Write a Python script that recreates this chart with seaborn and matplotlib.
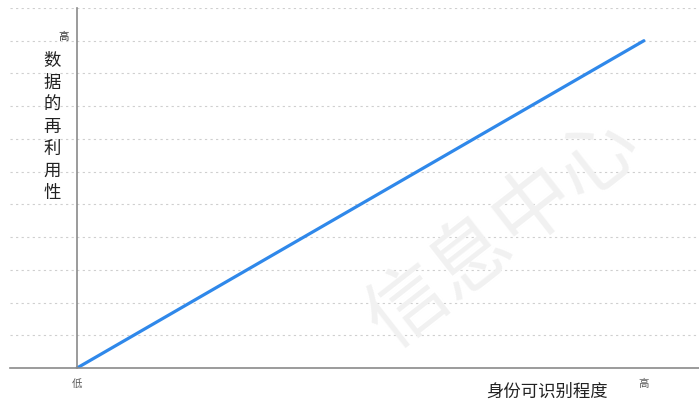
import matplotlib
matplotlib.use("Agg")
import matplotlib.pyplot as plt
import pandas as pd
import seaborn as sns

# data
x_values = [0, 4]
y_values = [0, 10]
x_ticks = [0, 1, 2, 3, 4]
x_tick_labels = ["低", "", "", "", "高"]
y_ticks = [10]
y_tick_labels = ["高"]
x_label = "身份可识别程度"
y_label = "数据的再利用性"
watermark = "信息中心"

sns.set_style("white")
plt.rcParams["font.family"] = ["Noto Sans CJK SC", "DejaVu Sans"]

df = pd.DataFrame({"x": x_values, "y": y_values})

fig = plt.figure(figsize=(6.99, 4.01), dpi=100)
ax = fig.add_axes([10 / 699, 1 - 368 / 401, 689 / 699, 360 / 401])

# faint watermark
fig.text(0.72, 0.42, watermark, fontsize=58, color="#f1f1f1", rotation=38,
         ha="center", va="center", zorder=0)
ax.set_facecolor("none")

sns.lineplot(data=df, x="x", y="y", color="#2f88ea", linewidth=2.3, ax=ax)

ax.set_xlim(-0.473, 4.389)
ax.set_ylim(0, 11)

ax.set_yticks(range(0, 12), minor=True)
ax.grid(True, which="minor", axis="y", linestyle=(0, (2, 3)), color="#cfcfcf", linewidth=0.8)
ax.set_axisbelow(True)

ax.set_xticks(x_ticks)
ax.set_xticklabels(x_tick_labels, fontsize=7.5, color="#555555")
ax.tick_params(axis="x", length=4, width=1, color="#999999", pad=4, direction="out")
ax.set_yticks([])
ax.tick_params(axis="y", which="minor", length=0)
# y tick label sits just above its grid line
for yv, lab in zip(y_ticks, y_tick_labels):
    ax.annotate(lab, xy=(0, yv), xytext=(-6, 3), textcoords="offset points",
                ha="right", va="center", fontsize=7.5, color="#333333")

ax.spines["left"].set_position(("data", 0))
for side in ["top", "right"]:
    ax.spines[side].set_visible(False)
for side in ["left", "bottom"]:
    ax.spines[side].set_color("#8a8a8a")
    ax.spines[side].set_linewidth(1.2)

ax.set_xlabel("")
ax.set_ylabel("")
fig.text(547 / 699, 1 - 392 / 401, x_label, fontsize=12.5, ha="center", va="center", color="#222222")
fig.text(52 / 699, 1 - 127 / 401, "\n".join(y_label), fontsize=12.5, ha="center", va="center",
         color="#222222", linespacing=1.28)

fig.savefig("out.png", dpi=100)
